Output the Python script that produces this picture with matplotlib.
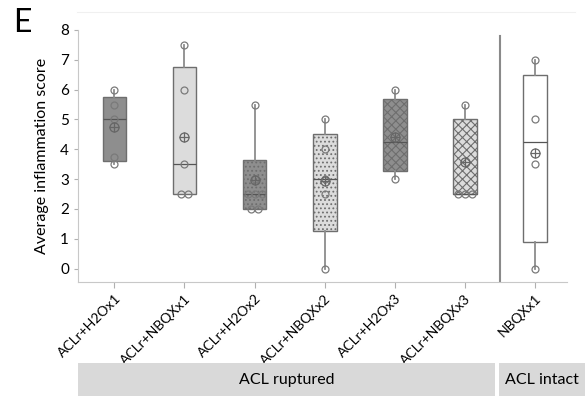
import numpy as np
import matplotlib
matplotlib.use('Agg')
import matplotlib.pyplot as plt
from matplotlib.patches import Rectangle
from matplotlib.lines import Line2D

plt.rcParams['font.family'] = ['Lato', 'DejaVu Sans']
plt.rcParams['hatch.linewidth'] = 0.8

# values
groups = ['ACLr+H2Ox1', 'ACLr+NBQXx1', 'ACLr+H2Ox2', 'ACLr+NBQXx2',
          'ACLr+H2Ox3', 'ACLr+NBQXx3', 'NBQXx1']
q1 = [3.62, 2.5, 2.0, 1.25, 3.28, 2.5, 0.9]
med = [5.0, 3.5, 2.5, 3.0, 4.25, 2.5, 4.25]
q3 = [5.75, 6.75, 3.63, 4.52, 5.67, 5.02, 6.5]
whislo = [3.5, 2.5, 2.0, 0.0, 3.0, 2.5, 0.0]
whishi = [6.0, 7.5, 5.5, 5.0, 6.0, 5.5, 7.0]
means = [4.75, 4.4, 2.97, 2.93, 4.42, 3.56, 3.88]
points = [[6.0, 5.5, 5.0, 3.75, 3.5],
          [7.5, 6.0, 3.5, 2.5, 2.5],
          [5.5, 3.0, 2.5, 2.5, 2.5, 2.0, 2.0],
          [5.0, 4.0, 3.0, 2.5, 0.0],
          [6.0, 3.0],
          [5.5, 2.5, 2.5, 2.5],
          [7.0, 5.0, 3.5, 0.0]]
sections = ['ACL ruptured', 'ACL intact']

faces = ['#8e8e8e', '#dcdcdc', '#8e8e8e', '#dcdcdc', '#8e8e8e', '#dcdcdc', '#ffffff']
hatches = [None, None, '....', '....', 'xxxx', 'xxxx', None]

fig = plt.figure(figsize=(5.85, 3.96), dpi=100)
ax = fig.add_axes([78/585, 114/396, 489/585, 252/396])

pos = np.arange(1, len(groups) + 1)
stats = []
for i in range(len(groups)):
    stats.append({'q1': q1[i], 'med': med[i], 'q3': q3[i],
                  'whislo': whislo[i], 'whishi': whishi[i], 'label': groups[i]})

bp = ax.bxp(stats, positions=pos, widths=0.34, patch_artist=True,
            showcaps=False, showfliers=False,
            boxprops=dict(edgecolor='#6e6e6e', linewidth=1.0),
            whiskerprops=dict(color='#8c8c8c', linewidth=1.3),
            medianprops=dict(color='#555555', linewidth=0.9))
for patch, fc, h in zip(bp['boxes'], faces, hatches):
    patch.set_facecolor(fc)
    if h:
        patch.set_hatch(h)

# individual points, duplicates spread side by side
for x, vals in zip(pos, points):
    vals = np.array(vals)
    for v in np.unique(vals):
        n = np.sum(vals == v)
        offs = (np.arange(n) - (n - 1) / 2) * 0.1
        ax.plot(x + offs, [v] * n, 'o', ms=5, mfc='none', mec='#7a7a7a',
                mew=0.9, ls='none', zorder=4)

# means as circle-plus
ax.plot(pos, means, 'o', ms=6.5, mfc='none', mec='#666666', mew=0.9, ls='none', zorder=5)
ax.plot(pos, means, '+', ms=6.5, mec='#666666', mew=0.9, ls='none', zorder=5)

ax.axvline(6.5, ymin=0, ymax=(7.8 + 0.45) / 8.45, color='#8a8a8a', lw=1.5)

ax.set_xlim(0.48, 7.46)
ax.set_ylim(-0.45, 8)
ax.set_yticks(range(0, 9))
ax.set_xticks(pos)
ax.set_xticklabels(groups, rotation=45, ha='right', rotation_mode='anchor', fontsize=10)
ax.tick_params(axis='y', labelsize=11, length=3, color='#b0b0b0')
ax.tick_params(axis='x', length=4, color='#b0b0b0')
for s in ['top', 'right']:
    ax.spines[s].set_visible(False)
for s in ['left', 'bottom']:
    ax.spines[s].set_color('#c8c8c8')
ax.set_ylabel('Average inflammation score', fontsize=11.5, labelpad=8)

# section bands below the axis
fig.add_artist(Rectangle((78/585, 0), 417/585, 33/396, transform=fig.transFigure,
                         color='#d9d9d9', lw=0))
fig.add_artist(Rectangle((499/585, 0), 86/585, 33/396, transform=fig.transFigure,
                         color='#d9d9d9', lw=0))
fig.text((78 + 495) / 2 / 585, 16/396, sections[0], ha='center', va='center', fontsize=11.5)
fig.text((499 + 585) / 2 / 585, 16/396, sections[1], ha='center', va='center', fontsize=11.5)

fig.add_artist(Line2D([77/585, 575/585], [1 - 12/396] * 2, color='#f0f0f0', lw=0.8))
fig.text(13/585, 1 - 8/396, 'E', fontsize=23, va='top')

fig.savefig('out.png', dpi=100)
